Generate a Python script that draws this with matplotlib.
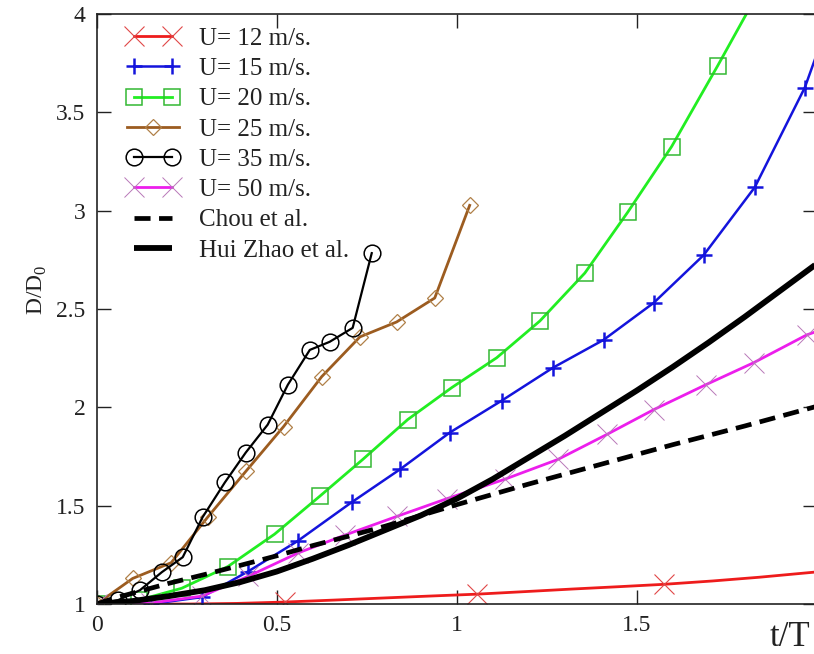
import matplotlib
matplotlib.use("Agg")
import matplotlib.pyplot as plt
from matplotlib.legend_handler import HandlerLine2D

plt.rcParams['font.family'] = ['Liberation Serif', 'DejaVu Serif']
plt.rcParams['mathtext.fontset'] = 'custom'
plt.rcParams['mathtext.rm'] = 'Liberation Serif'

# U = 12 m/s
t12 = [0, 0.13, 0.26, 0.39, 0.524, 0.66, 0.79, 0.92, 1.056, 1.19, 1.32, 1.45, 1.575, 1.71, 1.84, 1.97, 2.1]
d12 = [1.0, 1.0, 1.0, 1.003, 1.01, 1.02, 1.03, 1.04, 1.05, 1.063, 1.076, 1.088, 1.10, 1.117, 1.136, 1.158, 1.18]

# U = 15 m/s
t15 = [0, 0.15, 0.292, 0.42, 0.558, 0.708, 0.842, 0.981, 1.125, 1.267, 1.408, 1.547, 1.686, 1.828, 1.967, 2.05]
d15 = [1.0, 1.0, 1.035, 1.165, 1.32, 1.517, 1.684, 1.872, 2.034, 2.201, 2.343, 2.531, 2.774, 3.119, 3.626, 4.05]

# U = 20 m/s
t20 = [0, 0.117, 0.236, 0.364, 0.494, 0.619, 0.739, 0.864, 0.986, 1.111, 1.231, 1.356, 1.475, 1.597, 1.725, 1.85]
d20 = [1.0, 1.02, 1.08, 1.19, 1.355, 1.547, 1.735, 1.938, 2.100, 2.252, 2.439, 2.683, 2.992, 3.326, 3.737, 4.15]

# U = 25 m/s
t25 = [0, 0.1, 0.207, 0.308, 0.414, 0.519, 0.625, 0.731, 0.833, 0.939, 1.036]
d25 = [1.0, 1.13, 1.21, 1.441, 1.674, 1.902, 2.156, 2.358, 2.434, 2.556, 3.027]

# U = 35 m/s
t35 = [0, 0.06, 0.12, 0.181, 0.239, 0.294, 0.356, 0.414, 0.475, 0.531, 0.592, 0.647, 0.711, 0.764]
d35 = [1.0, 1.02, 1.07, 1.162, 1.238, 1.441, 1.618, 1.770, 1.912, 2.115, 2.292, 2.333, 2.404, 2.784]

# U = 50 m/s
t50 = [0, 0.15, 0.292, 0.42, 0.56, 0.689, 0.833, 0.972, 1.133, 1.281, 1.417, 1.547, 1.692, 1.825, 1.972, 2.1]
d50 = [1.0, 1.005, 1.04, 1.14, 1.26, 1.35, 1.445, 1.535, 1.634, 1.735, 1.862, 1.988, 2.115, 2.227, 2.368, 2.45]

# Chou et al.
tch = [0, 0.05, 0.1, 0.15, 0.2, 0.3, 0.4, 0.5, 0.6, 0.7, 0.8, 0.9, 1.0, 1.2, 1.4, 1.6, 1.8, 2.0]
dch = [1.0, 1.03, 1.055, 1.08, 1.105, 1.15, 1.197, 1.245, 1.297, 1.345, 1.395, 1.45, 1.505, 1.61, 1.71, 1.81, 1.905, 2.005]

# Hui Zhao et al.
thz = [0, 0.1, 0.2, 0.3, 0.4, 0.5, 0.6, 0.7, 0.8, 0.9, 1.0, 1.1, 1.2, 1.3, 1.4, 1.5, 1.6, 1.7, 1.8, 1.9, 2.0]
dhz = [1.0, 1.015, 1.04, 1.07, 1.112, 1.165, 1.23, 1.3, 1.375, 1.45, 1.535, 1.635, 1.745, 1.855, 1.97, 2.085, 2.205, 2.33, 2.46, 2.595, 2.73]

xticks = [0, 0.5, 1, 1.5, 2]
xticklabels = ['0', '0.5', '1', '1.5', '']
yticks = [1, 1.5, 2, 2.5, 3, 3.5, 4]
yticklabels = ['1', '1.5', '2', '2.5', '3', '3.5', '4']

fig = plt.figure(figsize=(8.14, 6.54), dpi=100)
ax = fig.add_axes([96.7 / 814, 50 / 654, 720 / 814, 590 / 654])

l12, = ax.plot(t12, d12, color='#ee1c1c', lw=2.0, marker='x', ms=14, mew=0.8,
               mec='#e04848', markevery=[4, 8, 12], label='U= 12 m/s.')
l15, = ax.plot(t15, d15, color='#1414dc', lw=1.8, marker='+', ms=11, mew=1.8,
               mec='#1414dc', markevery=list(range(1, 15)), label='U= 15 m/s.')
l20, = ax.plot(t20, d20, color='#22ee22', lw=2.0, marker='s', ms=12, mew=1.1,
               mfc='none', mec='#33b833', label='U= 20 m/s.')
l25, = ax.plot(t25, d25, color='#9c5c20', lw=2.0, marker='D', ms=8, mew=0.9,
               mfc='none', mec='#b08048', label='U= 25 m/s.')
l35, = ax.plot(t35, d35, color='black', lw=1.6, marker='o', ms=12, mew=1.1,
               mfc='none', mec='black', label='U= 35 m/s.')
l50, = ax.plot(t50, d50, color='#ec1eec', lw=2.0, marker='x', ms=14, mew=0.7,
               mec='#b878b8', label='U= 50 m/s.')
lch, = ax.plot(tch, dch, color='black', lw=3.4, dashes=(3.4, 1.8), label='Chou et al.')
lhz, = ax.plot(thz, dhz, color='black', lw=4.2, solid_capstyle='butt', label='Hui Zhao et al.')

ax.set_xlim(0, 2)
ax.set_ylim(1, 4)
ax.set_xticks(xticks)
ax.set_xticklabels(xticklabels)
ax.set_yticks(yticks)
ax.set_yticklabels(yticklabels)
ax.tick_params(direction='in', length=10, width=1.0, top=True, right=True,
               labelsize=17, pad=8, colors='#222222')
for s in ax.spines.values():
    s.set_linewidth(1.2)
    s.set_color('#222222')

ax.set_xlabel('t/T', fontsize=25, va='baseline', color='#222222')
ax.xaxis.set_label_coords(0.963, -0.072)
ax.set_ylabel(r'D/D$_\mathregular{0}$', fontsize=17, va='center', color='#222222')
ax.yaxis.set_label_coords(-0.083, 0.532)

leg = ax.legend(loc='upper left', bbox_to_anchor=(0.042, 0.9775), frameon=False,
                fontsize=18, labelspacing=0.31, handlelength=2.1, handletextpad=0.8,
                borderpad=0, borderaxespad=0, numpoints=2,
                handler_map={l25: HandlerLine2D(numpoints=1)})
for txt in leg.get_texts():
    txt.set_color('#222222')

fig.savefig('out.png', dpi=100)
